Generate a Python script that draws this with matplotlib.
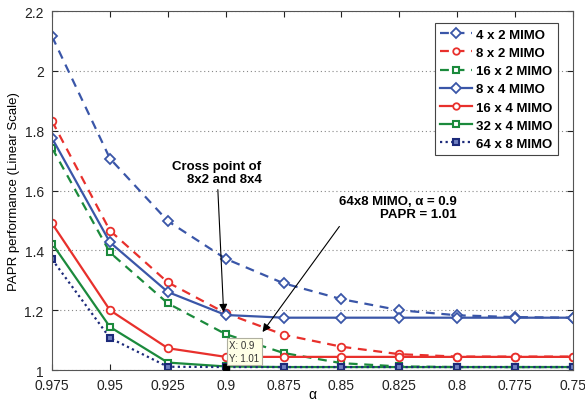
import matplotlib
matplotlib.use("Agg")
import matplotlib.pyplot as plt

plt.rcParams['font.family'] = ['Liberation Sans', 'DejaVu Sans']

alpha = [0.975, 0.95, 0.925, 0.9, 0.875, 0.85, 0.825, 0.8, 0.775, 0.75]
mimo_4x2 = [2.115, 1.707, 1.498, 1.372, 1.29, 1.237, 1.200, 1.183, 1.177, 1.175]
mimo_8x2 = [1.832, 1.466, 1.293, 1.19, 1.118, 1.078, 1.053, 1.045, 1.045, 1.045]
mimo_16x2 = [1.742, 1.393, 1.223, 1.12, 1.057, 1.023, 1.012, 1.01, 1.01, 1.01]
mimo_8x4 = [1.775, 1.427, 1.261, 1.184, 1.175, 1.175, 1.175, 1.175, 1.175, 1.175]
mimo_16x4 = [1.49, 1.20, 1.073, 1.044, 1.044, 1.044, 1.044, 1.044, 1.044, 1.044]
mimo_32x4 = [1.423, 1.144, 1.025, 1.012, 1.01, 1.01, 1.01, 1.01, 1.01, 1.01]
mimo_64x8 = [1.37, 1.107, 1.011, 1.01, 1.01, 1.01, 1.01, 1.01, 1.01, 1.01]

xtick_labels = ['0.975', '0.95', '0.925', '0.9', '0.875', '0.85', '0.825', '0.8', '0.775', '0.75']
yticks = [1, 1.2, 1.4, 1.6, 1.8, 2, 2.2]
ytick_labels = ['1', '1.2', '1.4', '1.6', '1.8', '2', '2.2']

blue = '#3a56a8'
red = '#e8302c'
green = '#1b8a3c'
navy = '#1c2a7a'

fig = plt.figure(figsize=(5.85, 4.02), dpi=100)
ax = fig.add_axes([0.089, 0.077, 0.8905, 0.893])

ax.plot(alpha, mimo_4x2, linestyle=(0, (4, 3)), color=blue, lw=1.6, marker='D',
        ms=5.5, mfc='white', mec=blue, mew=1.3, label='4 x 2 MIMO')
ax.plot(alpha, mimo_8x2, linestyle=(0, (4, 3)), color=red, lw=1.6, marker='o',
        ms=5.5, mfc='white', mec=red, mew=1.3, label='8 x 2 MIMO')
ax.plot(alpha, mimo_16x2, linestyle=(0, (4, 3)), color=green, lw=1.6, marker='s',
        ms=4.5, mfc='white', mec=green, mew=1.5, label='16 x 2 MIMO')
ax.plot(alpha, mimo_8x4, linestyle='-', color=blue, lw=1.6, marker='D',
        ms=5.5, mfc='white', mec=blue, mew=1.3, label='8 x 4 MIMO')
ax.plot(alpha, mimo_16x4, linestyle='-', color=red, lw=1.6, marker='o',
        ms=5.5, mfc='white', mec=red, mew=1.3, label='16 x 4 MIMO')
ax.plot(alpha, mimo_32x4, linestyle='-', color=green, lw=1.6, marker='s',
        ms=4.5, mfc='white', mec=green, mew=1.5, label='32 x 4 MIMO')
ax.plot(alpha, mimo_64x8, linestyle=(0, (1, 1.5)), color=navy, lw=1.6, marker='s',
        ms=4.5, mfc='#6f7fc0', mec=navy, mew=1.5, label='64 x 8 MIMO')

# data tip marker
ax.plot([alpha[3]], [mimo_64x8[3]], marker='s', ms=4.5, color='black', zorder=6)
ax.text(0.8985, 1.062, 'X: 0.9\nY: 1.01', fontsize=7, ha='left', va='center',
        color='#333333', linespacing=1.3,
        bbox=dict(boxstyle='square,pad=0.25', fc='#ffffe6', ec='#b0b0a0', lw=0.8),
        zorder=7)

ax.set_xlim(0.975, 0.75)
ax.set_ylim(1, 2.2)
ax.set_xticks(alpha)
ax.set_xticklabels(xtick_labels)
ax.set_yticks(yticks)
ax.set_yticklabels(ytick_labels)
ax.tick_params(direction='in', top=True, right=True, labelsize=10, length=4,
               colors='#222222', labelcolor='#222222')
ax.tick_params(axis='x', pad=6)
ax.tick_params(axis='y', pad=6)
ax.yaxis.grid(True, linestyle=(0, (1, 2.5)), color='#888888', lw=0.8)
for s in ax.spines.values():
    s.set_color('#555555')

ax.set_xlabel('α', fontsize=10)
ax.xaxis.set_label_coords(0.5, -0.046)
ax.set_ylabel('PAPR performance (Linear Scale)', fontsize=9.5, labelpad=3)

# annotations
ax.annotate('', xy=(0.9009, 1.193), xytext=(0.9034, 1.603),
            arrowprops=dict(arrowstyle='-|>', color='black', lw=0.8,
                            mutation_scale=12, shrinkA=0, shrinkB=0))
ax.text(0.8845, 1.66, 'Cross point of\n8x2 and 8x4', fontsize=9.5, fontweight='bold',
        ha='right', va='center', multialignment='right', linespacing=1.15)

ax.annotate('', xy=(0.8841, 1.127), xytext=(0.8509, 1.48),
            arrowprops=dict(arrowstyle='-|>', color='black', lw=0.8,
                            mutation_scale=12, shrinkA=0, shrinkB=0))
ax.text(0.8004, 1.543, '64x8 MIMO, α = 0.9\nPAPR = 1.01', fontsize=9.5, fontweight='bold',
        ha='right', va='center', multialignment='right', linespacing=1.15)

leg = ax.legend(loc='upper right', bbox_to_anchor=(0.983, 0.984),
                prop={'weight': 'bold', 'size': 9.5}, fancybox=False, framealpha=1,
                edgecolor='#444444', handlelength=2.4, handletextpad=0.3,
                labelspacing=0.45, borderpad=0.4, markerscale=0.85)
leg.get_frame().set_linewidth(0.8)

fig.savefig('out.png', dpi=100)
